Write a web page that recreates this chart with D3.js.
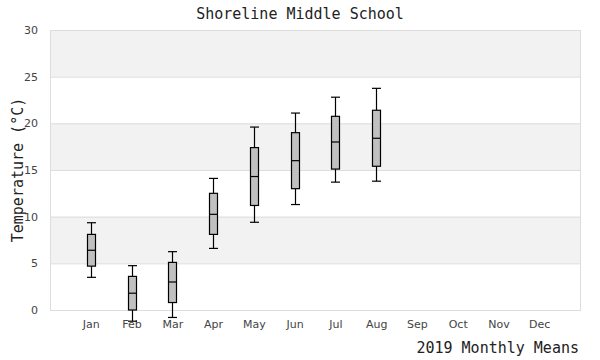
<!DOCTYPE html>
<html><head><meta charset="utf-8">
<script src="https://cdn.jsdelivr.net/npm/d3@7"></script>
<style>body{margin:0;background:#fff}svg{display:block}</style>
</head><body>
<svg id="chart" width="600" height="360"></svg>
<script>
const months = ["Jan","Feb","Mar","Apr","May","Jun","Jul","Aug","Sep","Oct","Nov","Dec"];
const whiskerLow  = [3.5, -1.2, -0.8, 6.6, 9.4, 11.3, 13.7, 13.8];
const q1          = [4.7,  0.0,  0.8, 8.1, 11.2, 13.0, 15.1, 15.4];
const median      = [6.4,  1.8,  3.0, 10.25, 14.3, 16.0, 18.0, 18.4];
const q3          = [8.1,  3.6,  5.1, 12.5, 17.4, 19.0, 20.75, 21.4];
const whiskerHigh = [9.35, 4.75, 6.25, 14.1, 19.6, 21.1, 22.8, 23.75];
const yTicks = [0, 5, 10, 15, 20, 25, 30];

const svg = d3.select("#chart");
const L = 50, R = 580, T = 30, B = 310;
const x = d3.scalePoint().domain(months).range([L, R]).padding(1);
const y = d3.scaleLinear().domain([0, 30]).range([B, T]);

// bands
const bands = [[5,10],[15,20],[25,30]];
svg.append("g").selectAll("rect").data(bands).join("rect")
  .attr("x", L).attr("width", R - L)
  .attr("y", d => y(d[1])).attr("height", d => y(d[0]) - y(d[1]))
  .attr("fill", "#f2f2f2");
// grid
svg.append("g").selectAll("line").data(yTicks).join("line")
  .attr("x1", L).attr("x2", R).attr("y1", d => y(d) + 0.5).attr("y2", d => y(d) + 0.5)
  .attr("stroke", "#dddddd");
// border
svg.append("rect").attr("x", L + 0.5).attr("y", T + 0.5).attr("width", R - L).attr("height", B - T)
  .attr("fill", "none").attr("stroke", "#dddddd");

// axes
const yAxis = d3.axisLeft(y).tickValues(yTicks).tickSize(0).tickPadding(12);
const gy = svg.append("g").attr("transform", `translate(${L},0)`).call(yAxis);
gy.select(".domain").remove();
gy.selectAll("text").attr("fill", "#444").style("font-family", "DejaVu Sans").style("font-size", "11px");

const xAxis = d3.axisBottom(x).tickSize(0).tickPadding(10);
const gx = svg.append("g").attr("transform", `translate(0,${B})`).call(xAxis);
gx.select(".domain").remove();
gx.selectAll("text").attr("fill", "#444").style("font-family", "DejaVu Sans").style("font-size", "11px");

// boxes
const data = whiskerLow.map((d, i) => ({m: months[i], lo: d, q1: q1[i], med: median[i], q3: q3[i], hi: whiskerHigh[i]}));
const bw = 8;
const sw = 1.2;
const g = svg.append("g").selectAll("g").data(data).join("g")
  .attr("transform", d => `translate(${Math.round(x(d.m)) + 0.5},0)`);
g.append("line").attr("y1", d => y(d.hi)).attr("y2", d => y(d.q3)).attr("stroke", "#000").attr("stroke-width", sw);
g.append("line").attr("y1", d => y(d.q1)).attr("y2", d => y(d.lo)).attr("stroke", "#000").attr("stroke-width", sw);
g.append("line").attr("x1", -bw/2 - 0.5).attr("x2", bw/2 + 0.5).attr("y1", d => y(d.hi)).attr("y2", d => y(d.hi)).attr("stroke", "#000").attr("stroke-width", sw);
g.append("line").attr("x1", -bw/2 - 0.5).attr("x2", bw/2 + 0.5).attr("y1", d => y(d.lo)).attr("y2", d => y(d.lo)).attr("stroke", "#000").attr("stroke-width", sw);
g.append("rect").attr("x", -bw/2).attr("width", bw)
  .attr("y", d => y(d.q3)).attr("height", d => y(d.q1) - y(d.q3))
  .attr("fill", "#c0c0c0").attr("stroke", "#000").attr("stroke-width", sw);
g.append("line").attr("x1", -bw/2).attr("x2", bw/2).attr("y1", d => y(d.med)).attr("y2", d => y(d.med)).attr("stroke", "#000").attr("stroke-width", sw);

// titles
const mono = "DejaVu Sans Mono";
svg.append("text").attr("x", 300).attr("y", 19).attr("text-anchor", "middle")
  .style("font-family", mono).style("font-size", "15px").attr("fill", "#222").text("Shoreline Middle School");
svg.append("text").attr("x", 579).attr("y", 353).attr("text-anchor", "end")
  .style("font-family", mono).style("font-size", "15px").attr("fill", "#222").text("2019 Monthly Means");
svg.append("text").attr("transform", "translate(23,170) rotate(-90)").attr("text-anchor", "middle")
  .style("font-family", mono).style("font-size", "15px").attr("fill", "#222").text("Temperature (°C)");
</script>
</body></html>
